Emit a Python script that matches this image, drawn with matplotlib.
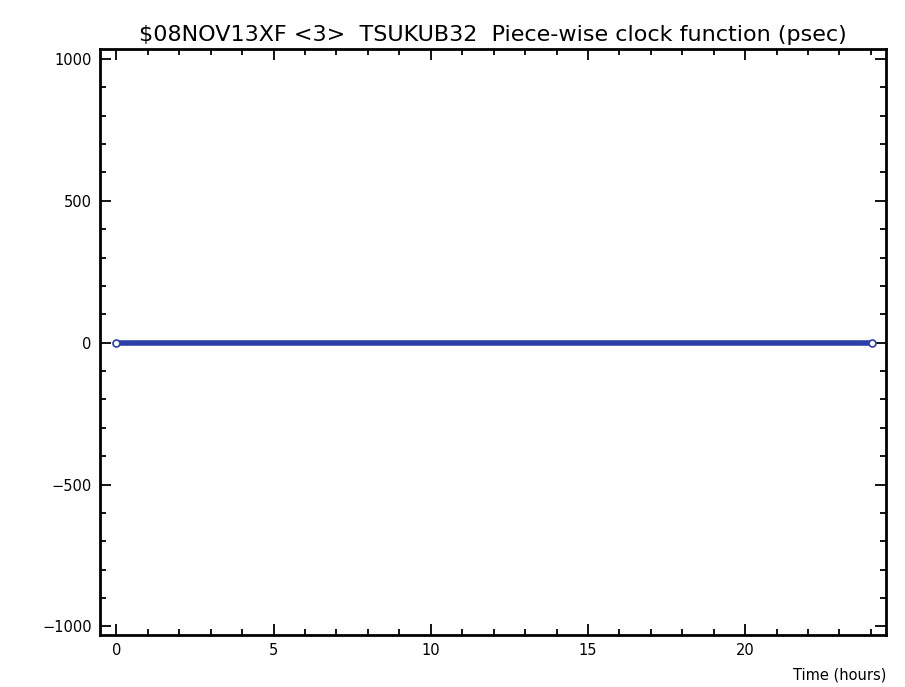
import matplotlib
matplotlib.use("Agg")
import matplotlib.pyplot as plt
from matplotlib.ticker import MultipleLocator

# Clock function segment endpoints
times = [0.0, 24.05]
clock_psec = [0.0, 0.0]

title = "$08NOV13XF <3>  TSUKUB32  Piece-wise clock function (psec)"

fig = plt.figure(figsize=(9.05, 6.87), dpi=100)
ax = fig.add_axes([100 / 905, 1 - 635 / 687, 786 / 905, 586 / 687])

line_color = "#2a40a8"
ax.plot(times, clock_psec, color=line_color, lw=4, solid_capstyle="butt", zorder=2)
ax.plot(times, clock_psec, "o", ms=5, mfc="white", mec=line_color, mew=1.2, zorder=3)

ax.set_xlim(-0.52, 24.48)
ax.set_ylim(-1030, 1035)
ax.xaxis.set_major_locator(MultipleLocator(5))
ax.xaxis.set_minor_locator(MultipleLocator(1))
ax.yaxis.set_major_locator(MultipleLocator(500))
ax.yaxis.set_minor_locator(MultipleLocator(100))
ax.tick_params(which="both", direction="in", top=True, right=True, width=1.3, labelsize=10.5)
ax.tick_params(which="major", length=8, pad=6)
ax.tick_params(which="minor", length=4)
ax.yaxis.set_major_formatter(plt.FuncFormatter(lambda v, p: f"{int(v)}".replace("-", "\u2212")))
for s in ax.spines.values():
    s.set_linewidth(2)

ax.set_title(title, fontsize=16, pad=6)
fig.text(886 / 905, 1 - 675 / 687, "Time (hours)", ha="right", va="center", fontsize=10.5)

fig.savefig("out.png", dpi=100)
